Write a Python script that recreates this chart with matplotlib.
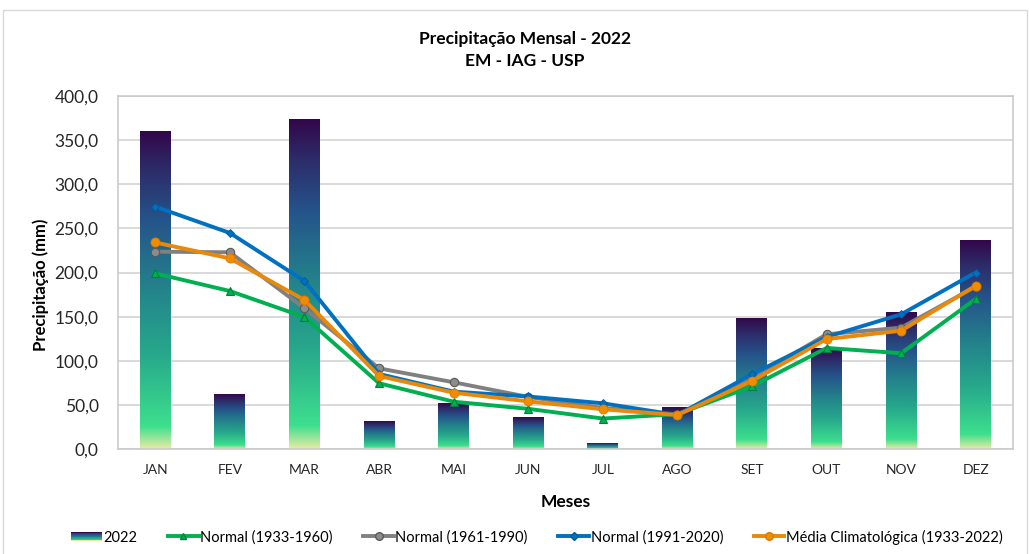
"""
Precipitação Mensal - 2022, EM - IAG - USP
Bars with a vertical gradient plus four climatological normals.
"""

import matplotlib

matplotlib.use("Agg")

import matplotlib.pyplot as plt
import numpy as np
from matplotlib.colors import LinearSegmentedColormap
from matplotlib.legend_handler import HandlerBase
from matplotlib.lines import Line2D
from matplotlib.patches import Rectangle
from matplotlib.ticker import FuncFormatter, MultipleLocator

# %%
# Data
# ---------------------------------

meses = ["JAN", "FEV", "MAR", "ABR", "MAI", "JUN", "JUL", "AGO", "SET", "OUT", "NOV", "DEZ"]

prec_2022 = [360.3, 62.0, 373.0, 31.0, 52.0, 35.5, 5.8, 47.0, 148.0, 114.0, 155.0, 236.0]
normal_1933_1960 = [199.0, 179.0, 149.5, 74.5, 53.6, 45.5, 34.5, 39.5, 71.0, 114.5, 108.5, 170.0]
normal_1961_1990 = [223.6, 222.9, 159.4, 91.4, 75.6, 59.0, 46.5, 39.0, 80.0, 130.0, 137.5, 184.0]
normal_1991_2020 = [274.6, 244.8, 190.4, 85.0, 65.0, 59.5, 51.8, 38.5, 84.6, 127.0, 152.6, 200.0]
media_1933_2022 = [234.0, 216.0, 168.8, 82.7, 63.8, 54.0, 45.0, 38.5, 77.0, 124.6, 134.0, 185.0]

# %%
# Styling
# -------

plt.rcParams["font.family"] = ["Lato", "DejaVu Sans"]

grad_cmap = LinearSegmentedColormap.from_list(
    "bars",
    [
        (0.00, "#e6eaa4"),
        (0.07, "#3ddf8e"),
        (0.30, "#27a88b"),
        (0.50, "#23848b"),
        (0.72, "#25548a"),
        (0.88, "#2d2c69"),
        (1.00, "#32074a"),
    ],
)
gradient = np.linspace(0, 1, 256).reshape(-1, 1)


class GradientHandler(HandlerBase):
    """Legend key drawn as a small vertical gradient."""

    def create_artists(self, legend, orig_handle, xdescent, ydescent, width, height, fontsize, trans):
        n = 12
        h = height * 0.75
        y0 = -ydescent + (height - h) / 2
        artists = []
        for i in range(n):
            r = Rectangle(
                (-xdescent, y0 + h * i / n),
                width,
                h / n + 0.3,
                facecolor=grad_cmap(i / (n - 1)),
                edgecolor="none",
                transform=trans,
            )
            artists.append(r)
        return artists


fig = plt.figure(figsize=(10.30, 5.54), dpi=100)
ax = fig.add_axes([118 / 1030, 1 - 449 / 554, (1013 - 118) / 1030, (449 - 96) / 554])

x = np.arange(len(meses))
bar_w = 0.415

# bars: invisible geometry, gradient image clipped to each bar
bars = ax.bar(x, prec_2022, width=bar_w, color="none", edgecolor="none", zorder=2)
for b in bars:
    x0, h = b.get_x(), b.get_height()
    ax.imshow(
        gradient,
        extent=[x0, x0 + b.get_width(), 0, h],
        origin="lower",
        aspect="auto",
        cmap=grad_cmap,
        interpolation="bicubic",
        zorder=2,
    )

lw = 2.8
ax.plot(x, normal_1933_1960, color="#00b050", lw=lw, marker="^", ms=5.5,
        mfc="#00b050", mec="#00803a", mew=0.8, zorder=3)
ax.plot(x, normal_1961_1990, color="#808080", lw=lw, marker="o", ms=6,
        mfc="#8c8c8c", mec="#5a5a5a", mew=0.8, zorder=3)
ax.plot(x, normal_1991_2020, color="#0070c0", lw=lw, marker="D", ms=4,
        mfc="#0070c0", mec="#005a9a", mew=0.6, zorder=3)
ax.plot(x, media_1933_2022, color="#e8890c", lw=lw, marker="o", ms=6.5,
        mfc="#f08c00", mec="#e07800", mew=0.6, zorder=4)

ax.set_xlim(-0.5, len(meses) - 0.5)
ax.set_ylim(0, 400)
ax.yaxis.set_major_locator(MultipleLocator(50))
ax.yaxis.set_major_formatter(FuncFormatter(lambda v, _: f"{v:.1f}".replace(".", ",")))
ax.set_xticks(x)
ax.set_xticklabels(meses)
ax.tick_params(axis="both", length=0)
ax.tick_params(axis="y", labelsize=12.5, pad=14, colors="#262626")
ax.tick_params(axis="x", labelsize=10, pad=11, colors="#262626")
ax.grid(axis="y", color="#d0d0d0", lw=1.1, zorder=0)
ax.set_axisbelow(True)
for s in ax.spines.values():
    s.set_color("#c8c8c8")
    s.set_linewidth(1.1)

ax.set_ylabel("Precipitação (mm)", fontsize=12, fontweight="bold", labelpad=4)
ax.yaxis.set_label_coords(-0.077, 0.465)
ax.set_xlabel("Meses", fontsize=12.5, fontweight="bold", labelpad=13)

fig.text(525 / 1030, 1 - 39 / 554, "Precipitação Mensal - 2022", ha="center", va="center",
         fontsize=12.5, fontweight="bold")
fig.text(525 / 1030, 1 - 61 / 554, "EM - IAG - USP", ha="center", va="center",
         fontsize=12.5, fontweight="bold")

# chart area border
fig.patches.append(Rectangle((3 / 1030, -0.01), 1024 / 1030, 1 - 10 / 554 + 0.01,
                             transform=fig.transFigure, fill=False,
                             edgecolor="#d9d9d9", lw=1))

handles = [
    Rectangle((0, 0), 1, 1),
    Line2D([], [], color="#00b050", lw=lw, marker="^", ms=5, mfc="#00b050", mec="#00803a"),
    Line2D([], [], color="#808080", lw=lw, marker="o", ms=5.5, mfc="#8c8c8c", mec="#5a5a5a"),
    Line2D([], [], color="#0070c0", lw=lw, marker="D", ms=4, mfc="#0070c0", mec="#005a9a"),
    Line2D([], [], color="#e8890c", lw=lw, marker="o", ms=5.5, mfc="#f08c00", mec="#e07800"),
]
labels = ["2022", "Normal (1933-1960)", "Normal (1961-1990)", "Normal (1991-2020)",
          "Média Climatológica (1933-2022)"]
fig.legend(handles, labels, handler_map={Rectangle: GradientHandler()},
           loc="center", bbox_to_anchor=(537 / 1030, 1 - 537 / 554), ncol=5,
           frameon=False, fontsize=10.5, handlelength=2.1, handletextpad=0.1,
           columnspacing=2.1, handleheight=0.9)

fig.savefig("out.png", dpi=100)
